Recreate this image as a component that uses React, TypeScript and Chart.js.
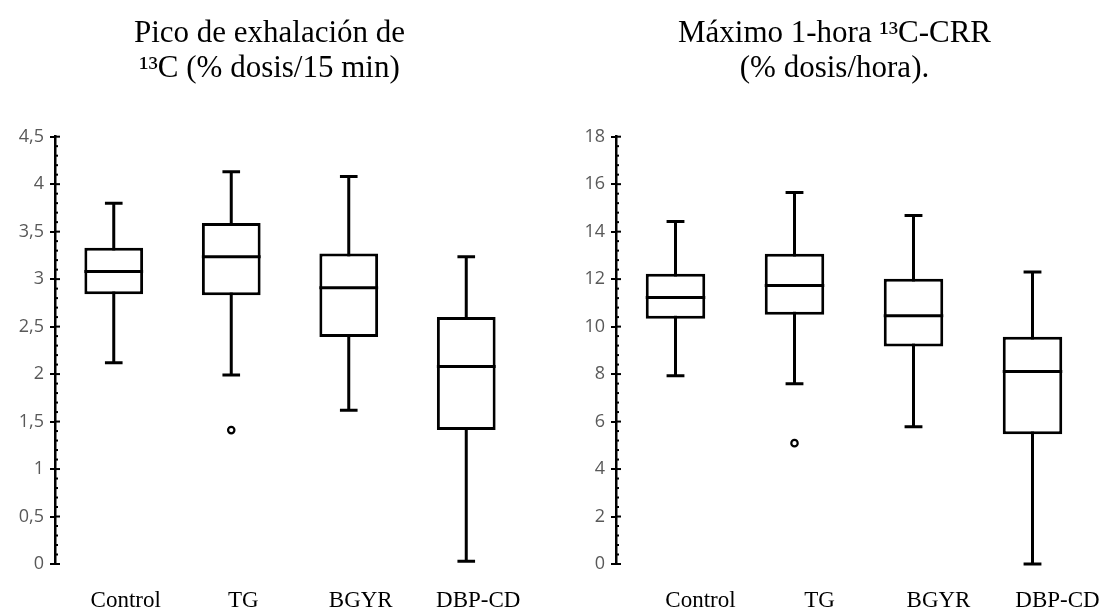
import React, { useEffect, useRef } from "react";
import { Chart, registerables } from "chart.js";

Chart.register(...registerables);

const categories = ["Control", "TG", "BGYR", "DBP-CD"];

// Left panel: Pico de exhalación de 13C (% dosis/15 min)
const leftMin = [2.12, 1.99, 1.62, 0.03];
const leftQ1 = [2.84, 2.83, 2.39, 1.41];
const leftMedian = [3.08, 3.235, 2.91, 2.08];
const leftQ3 = [3.33, 3.59, 3.27, 2.6];
const leftMax = [3.8, 4.13, 4.08, 3.235];
const leftOutliers = [null, 1.41, null, null];
const leftTitle = ["Pico de exhalación de", "¹³C (% dosis/15 min)"];

// Right panel: Máximo 1-hora 13C-CRR (% dosis/hora)
const rightMin = [7.93, 7.59, 5.78, 0.0];
const rightQ1 = [10.33, 10.5, 9.16, 5.47];
const rightMedian = [11.23, 11.73, 10.46, 8.11];
const rightQ3 = [12.23, 13.07, 12.02, 9.57];
const rightMax = [14.43, 15.65, 14.68, 12.3];
const rightOutliers = [null, 5.09, null, null];
const rightTitle = ["Máximo 1-hora ¹³C-CRR", "(% dosis/hora)."];

type PanelProps = {
  title: string[];
  mins: number[];
  q1: number[];
  medians: number[];
  q3: number[];
  maxs: number[];
  outliers: (number | null)[];
  yMax: number;
  yStep: number;
  minorStep: number;
  width: number;
  padLeft: number;
  padRight: number;
  yAxisWidth: number;
  labelOffset: number;
};

function BoxPanel(p: PanelProps) {
  const ref = useRef<HTMLCanvasElement | null>(null);
  useEffect(() => {
    if (!ref.current) return;
    const boxPlugin = {
      id: "boxParts",
      beforeDatasetsDraw(chart: any) {
        const ctx = chart.ctx;
        const y = chart.scales.y;
        const meta = chart.getDatasetMeta(0);
        ctx.save();
        ctx.strokeStyle = "#000";
        ctx.lineWidth = 3;
        meta.data.forEach((bar: any, i: number) => {
          const cx = bar.x;
          const cap = bar.width * 0.3;
          const yTop = y.getPixelForValue(p.maxs[i]);
          const yBot = y.getPixelForValue(p.mins[i]);
          ctx.beginPath();
          ctx.moveTo(cx, yTop);
          ctx.lineTo(cx, yBot);
          ctx.moveTo(cx - cap / 2, yTop);
          ctx.lineTo(cx + cap / 2, yTop);
          ctx.moveTo(cx - cap / 2, yBot);
          ctx.lineTo(cx + cap / 2, yBot);
          ctx.stroke();
        });
        ctx.restore();
      },
      afterDatasetsDraw(chart: any) {
        const ctx = chart.ctx;
        const y = chart.scales.y;
        const meta = chart.getDatasetMeta(0);
        ctx.save();
        ctx.strokeStyle = "#000";
        ctx.lineWidth = 3;
        meta.data.forEach((bar: any, i: number) => {
          const ym = y.getPixelForValue(p.medians[i]);
          ctx.beginPath();
          ctx.moveTo(bar.x - bar.width / 2, ym);
          ctx.lineTo(bar.x + bar.width / 2, ym);
          ctx.stroke();
        });
        // minor ticks and right part of major ticks
        const ax = chart.chartArea.left;
        ctx.lineWidth = 2;
        const nMinor = Math.round(p.yMax / p.minorStep);
        for (let k = 0; k <= nMinor; k++) {
          const v = k * p.minorStep;
          const py = y.getPixelForValue(v);
          const isMajor = Math.abs(v / p.yStep - Math.round(v / p.yStep)) < 1e-6;
          ctx.beginPath();
          ctx.moveTo(ax, py);
          ctx.lineTo(ax + (isMajor ? 5 : 3), py);
          ctx.stroke();
        }
        ctx.restore();
      },
    };
    const chart = new Chart(ref.current, {
      type: "bar",
      data: {
        labels: categories,
        datasets: [
          {
            type: "bar",
            data: p.q1.map((v, i) => [v, p.q3[i]]) as any,
            backgroundColor: "#ffffff",
            borderColor: "#000000",
            borderWidth: 3,
            borderSkipped: false,
            barPercentage: 0.5,
            categoryPercentage: 1,
          },
          {
            type: "line",
            data: p.outliers as any,
            showLine: false,
            pointRadius: 3.2,
            pointBorderWidth: 2.2,
            pointBackgroundColor: "#ffffff",
            pointBorderColor: "#000000",
          },
        ],
      } as any,
      options: {
        responsive: false,
        animation: false,
        layout: { padding: { left: p.padLeft, right: p.padRight, top: 0, bottom: 0 } },
        plugins: {
          legend: { display: false },
          tooltip: { enabled: false },
          title: {
            display: true,
            text: p.title,
            color: "#000",
            font: { family: "'Liberation Serif', serif", size: 31, weight: "normal", lineHeight: 1.14 },
            padding: { top: 16, bottom: 50 },
          },
        },
        scales: {
          x: {
            offset: true,
            afterFit(scale: any) {
              scale.height = 46;
            },
            grid: { display: false, drawTicks: false },
            border: { display: false },
            ticks: {
              color: "#000",
              font: { family: "'Liberation Serif', serif", size: 23 },
              padding: 23,
              labelOffset: p.labelOffset,
              maxRotation: 0,
              autoSkip: false,
            },
          },
          y: {
            min: 0,
            max: p.yMax,
            afterFit(scale: any) {
              scale.width = p.yAxisWidth;
            },
            grid: {
              display: true,
              drawOnChartArea: false,
              drawTicks: true,
              tickLength: 5,
              color: "#000",
              lineWidth: 2,
            },
            border: { display: true, color: "#000", width: 2.5 },
            ticks: {
              stepSize: p.yStep,
              color: "#595959",
              font: { family: "'Open Sans', sans-serif", size: 18 },
              padding: 6,
              callback: (v: any) => String(Number(v)).replace(".", ","),
            },
          },
        },
      } as any,
      plugins: [boxPlugin],
    });
    return () => chart.destroy();
  }, []);
  return <canvas ref={ref} width={p.width} height={610} />;
}

export default function App() {
  return (
    <div style={{ position: "fixed", left: 0, top: 0, width: 1109, height: 610, background: "#fff" }}>
      <div style={{ position: "absolute", left: 0, top: 0 }}>
        <BoxPanel
          title={leftTitle}
          mins={leftMin}
          q1={leftQ1}
          medians={leftMedian}
          q3={leftQ3}
          maxs={leftMax}
          outliers={leftOutliers}
          yMax={4.5}
          yStep={0.5}
          minorStep={0.1}
          width={550}
          padLeft={14}
          padRight={25}
          yAxisWidth={41}
          labelOffset={12}
        />
      </div>
      <div style={{ position: "absolute", left: 560, top: 0 }}>
        <BoxPanel
          title={rightTitle}
          mins={rightMin}
          q1={rightQ1}
          medians={rightMedian}
          q3={rightQ3}
          maxs={rightMax}
          outliers={rightOutliers}
          yMax={18}
          yStep={2}
          minorStep={0.4}
          width={549}
          padLeft={17}
          padRight={17}
          yAxisWidth={39}
          labelOffset={25}
        />
      </div>
    </div>
  );
}
